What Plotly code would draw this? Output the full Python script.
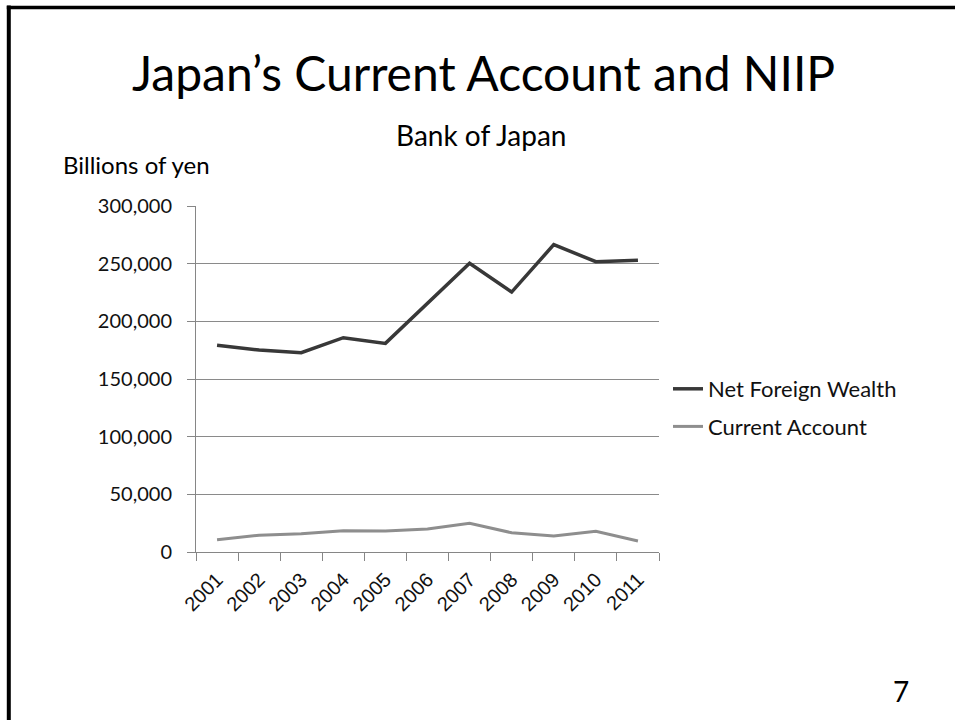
import plotly.graph_objects as go

years = ["2001", "2002", "2003", "2004", "2005", "2006", "2007", "2008", "2009", "2010", "2011"]
net_foreign_wealth = [179200, 175100, 172800, 185800, 180900, 215500, 250300, 225400, 266500, 251700, 252900]
current_account = [10700, 14500, 15900, 18500, 18200, 19900, 24900, 16700, 13900, 17900, 9500]
y_ticks = [0, 50000, 100000, 150000, 200000, 250000, 300000]
y_tick_labels = ["0", "50,000", "100,000", "150,000", "200,000", "250,000", "300,000"]

W, H = 955, 720
L, R, T, B = 196, 659, 206, 552
PW, PH = R - L, B - T


def px(x):
    return (x - L) / PW


def py(y):
    return (B - y) / PH


fig = go.Figure()
fig.add_trace(go.Scatter(x=years, y=net_foreign_wealth, mode="lines", name="Net Foreign Wealth",
                         line=dict(color="#383838", width=3.5), legendgroup="a"))
fig.add_trace(go.Scatter(x=years, y=current_account, mode="lines", name="Current Account",
                         line=dict(color="#8e8e8e", width=3), legendgroup="b"))

sans = "Lato, 'Open Sans', sans-serif"

fig.update_layout(
    width=W, height=H,
    margin=dict(l=L, r=W - R, t=T, b=H - B, pad=0),
    paper_bgcolor="white", plot_bgcolor="white",
    showlegend=True,
    legend=dict(x=px(668), y=py(408), xanchor="left", yanchor="middle",
                font=dict(family=sans, size=22, color="#111"), tracegroupgap=6,
                bgcolor="rgba(0,0,0,0)"),
    xaxis=dict(type="category", tickson="boundaries", ticks="outside", ticklen=8,
               tickcolor="#868686", showline=True, linecolor="#868686", linewidth=1,
               showgrid=False, tickangle=-45, ticklabelstandoff=7,
               tickfont=dict(family="'Liberation Sans', Arial, sans-serif", size=20, color="#111"),
               range=[-0.5, 10.5], fixedrange=True),
    yaxis=dict(range=[0, 300000], tickvals=y_ticks, ticktext=y_tick_labels,
               ticks="outside", ticklen=8, tickcolor="#868686", ticklabelstandoff=11,
               showline=True, linecolor="#868686", linewidth=1,
               showgrid=True, gridcolor="#8a8a8a", gridwidth=1, zeroline=False,
               tickfont=dict(family=sans, size=20, color="#111"), fixedrange=True),
    annotations=[
        dict(text="Japan\u2019s Current Account and NIIP", x=px(483), y=py(73), xref="paper", yref="paper",
             xanchor="center", yanchor="middle", showarrow=False,
             font=dict(family=sans, size=48, color="#000")),
        dict(text="Bank of Japan", x=px(481), y=py(135), xref="paper", yref="paper",
             xanchor="center", yanchor="middle", showarrow=False,
             font=dict(family=sans, size=28, color="#000")),
        dict(text="Billions of yen", x=px(61), y=py(165), xref="paper", yref="paper",
             xanchor="left", yanchor="middle", showarrow=False,
             font=dict(family=sans, size=24, color="#000")),
        dict(text="7", x=px(901), y=py(691), xref="paper", yref="paper",
             xanchor="center", yanchor="middle", showarrow=False,
             font=dict(family=sans, size=28, color="#000")),
    ],
    shapes=[
        dict(type="line", xref="paper", yref="paper", x0=px(8.8), x1=px(8.8), y0=py(5.5), y1=py(730),
             line=dict(color="black", width=4)),
        dict(type="line", xref="paper", yref="paper", x0=px(6.8), x1=px(965), y0=py(7.5), y1=py(7.5),
             line=dict(color="black", width=3.6)),
    ],
)

fig.write_html("out.html")
